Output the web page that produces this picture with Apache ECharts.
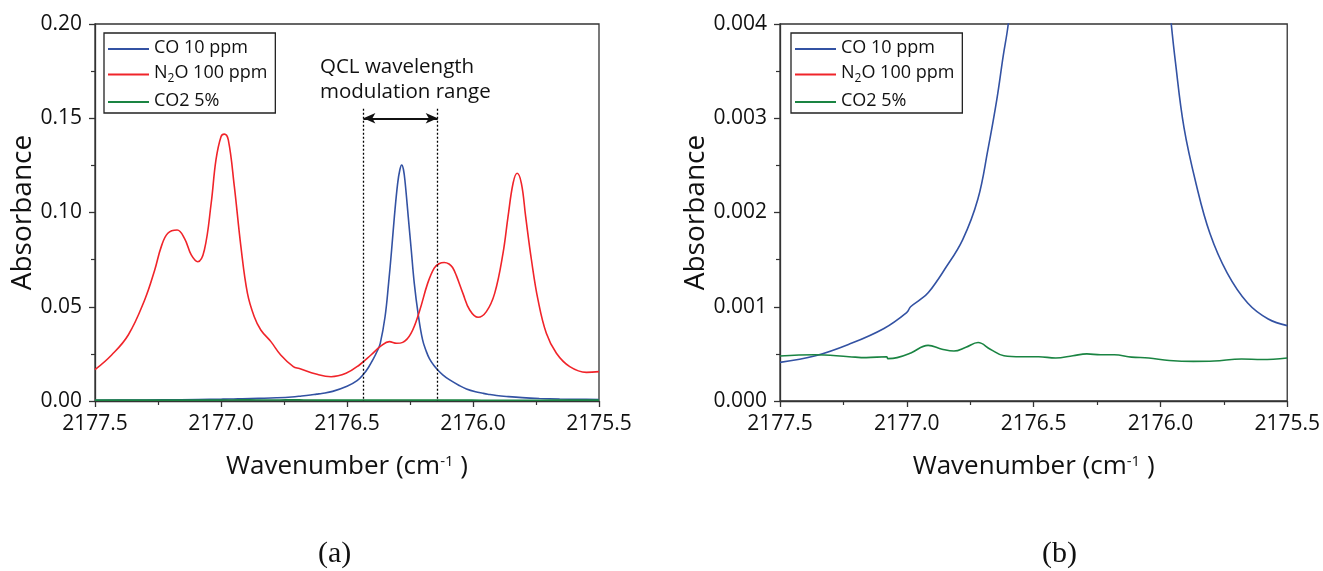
<!DOCTYPE html>
<html><head><meta charset="utf-8">
<script src="https://cdn.jsdelivr.net/npm/echarts@6/dist/echarts.min.js"></script>
<style>html,body{margin:0;padding:0;background:#fff}#c{width:1323px;height:571px}</style>
</head><body><div id="c"></div>
<script>
// ---- data ----
const seriesNames = ['CO 10 ppm', 'N2O 100 ppm', 'CO2 5%'];
const seriesColors = ['#3352a3', '#f0242a', '#1a8442'];

const coData = [
  [2177.5, 0.00041], [2177.36, 0.00048], [2177.23, 0.0006], [2177.09, 0.00077],
  [2177.0, 0.00094], [2176.985, 0.001], [2176.95, 0.00107], [2176.915, 0.00115],
  [2176.85, 0.0014], [2176.78, 0.00171], [2176.72, 0.00214], [2176.68, 0.00267],
  [2176.645, 0.0032], [2176.62, 0.00366], [2176.6, 0.004], [2176.557, 0.0051],
  [2176.5, 0.0078], [2176.46, 0.0108], [2176.434, 0.0143], [2176.415, 0.0178],
  [2176.396, 0.0222], [2176.38, 0.0265], [2176.368, 0.0306], [2176.349, 0.0447],
  [2176.335, 0.0624], [2176.323, 0.0801], [2176.312, 0.0978], [2176.299, 0.1155],
  [2176.29, 0.1228], [2176.283, 0.1252], [2176.276, 0.1228], [2176.269, 0.1155],
  [2176.257, 0.0978], [2176.245, 0.0801], [2176.233, 0.0624], [2176.218, 0.0465],
  [2176.2, 0.0324], [2176.185, 0.0262], [2176.173, 0.0225], [2176.155, 0.0188],
  [2176.138, 0.0162], [2176.12, 0.0139], [2176.094, 0.0113], [2176.054, 0.0082],
  [2176.026, 0.0064], [2175.99, 0.0049], [2175.961, 0.0041], [2175.941, 0.0036],
  [2175.907, 0.0029], [2175.859, 0.0023], [2175.805, 0.00178], [2175.737, 0.00136],
  [2175.656, 0.00104], [2175.575, 0.00087], [2175.5, 0.0008]
];

const n2oData = [
  [2177.5, 0.0166], [2177.434, 0.0244], [2177.368, 0.035], [2177.303, 0.0536],
  [2177.263, 0.0695], [2177.237, 0.0819], [2177.211, 0.089], [2177.174, 0.0907],
  [2177.145, 0.0863], [2177.118, 0.0775], [2177.092, 0.0739], [2177.066, 0.0801],
  [2177.039, 0.1049], [2177.02, 0.1279], [2177.0, 0.1402], [2176.987, 0.1416],
  [2176.971, 0.1385], [2176.947, 0.1137], [2176.921, 0.0819], [2176.895, 0.0571],
  [2176.868, 0.0447], [2176.842, 0.0377], [2176.802, 0.0315], [2176.763, 0.0244],
  [2176.713, 0.0182], [2176.689, 0.0172], [2176.623, 0.0143], [2176.563, 0.0129],
  [2176.504, 0.0147], [2176.451, 0.0191], [2176.405, 0.0244], [2176.365, 0.0292],
  [2176.332, 0.0315], [2176.303, 0.0306], [2176.279, 0.0311], [2176.246, 0.0359],
  [2176.213, 0.0474], [2176.18, 0.0624], [2176.154, 0.0705], [2176.135, 0.0728],
  [2176.114, 0.0735], [2176.095, 0.0727], [2176.081, 0.0708], [2176.066, 0.0665],
  [2176.04, 0.0571], [2176.013, 0.0483], [2175.98, 0.0444], [2175.947, 0.0474],
  [2175.914, 0.0571], [2175.881, 0.0783], [2175.861, 0.0978], [2175.841, 0.1155],
  [2175.825, 0.1208], [2175.808, 0.1155], [2175.791, 0.0978], [2175.768, 0.0748],
  [2175.742, 0.0536], [2175.709, 0.0359], [2175.669, 0.0253], [2175.616, 0.0182],
  [2175.55, 0.0152], [2175.5, 0.0156]
];

const co2Data = [
  [2177.5, 0.000477], [2177.364, 0.00049], [2177.228, 0.00047], [2177.16, 0.00046],
  [2177.079, 0.00047], [2177.075, 0.00045], [2177.038, 0.00046], [2176.984, 0.00051],
  [2176.916, 0.00059], [2176.861, 0.00055], [2176.814, 0.00053], [2176.767, 0.00057],
  [2176.719, 0.00062], [2176.671, 0.00055], [2176.617, 0.00048], [2176.549, 0.00047],
  [2176.48, 0.00047], [2176.413, 0.000456], [2176.345, 0.00048], [2176.29, 0.0005],
  [2176.236, 0.00049], [2176.182, 0.00049], [2176.114, 0.000466], [2176.046, 0.000456],
  [2175.965, 0.00043], [2175.87, 0.00042], [2175.788, 0.000424], [2175.68, 0.000445],
  [2175.6, 0.00044], [2175.5, 0.000456]
];

const xRange = { min: 2175.5, max: 2177.5, interval: 0.5 };
const yRangeA = { min: 0, max: 0.2, interval: 0.05, digits: 2 };
const yRangeB = { min: 0, max: 0.004, interval: 0.001, digits: 3 };
const modulationRange = [2176.435, 2176.14];
const modulationLineTop = 0.155;
const arrowLevel = 0.15;
const annotationLines = ['QCL wavelength', 'modulation range'];
const panelLabels = ['(a)', '(b)'];
const xName = 'Wavenumber (cm{sup|-1} )';
const yName = 'Absorbance';

// ---- chart ----
const FONT = '"Open Sans", "Noto Sans", sans-serif';
const chart = echarts.init(document.getElementById('c'), null, { renderer: 'canvas' });

const grids = [
  { left: 95, top: 24, width: 504, height: 377 },
  { left: 780, top: 24, width: 508, height: 377 }
];

function xAxisFor(i) {
  return {
    type: 'value', gridIndex: i, inverse: true,
    min: xRange.min, max: xRange.max, interval: xRange.interval,
    name: xName, nameLocation: 'middle', nameGap: 53,
    nameTextStyle: {
      fontSize: 26, fontFamily: FONT, color: '#111', verticalAlign: 'top',
      rich: { sup: { fontSize: 15, fontFamily: FONT, color: '#111', verticalAlign: 'top', padding: [0, 0, 8, 0] } }
    },
    axisLine: { show: true, lineStyle: { color: '#333', width: 1.3 } },
    axisTick: { show: true, length: 6, lineStyle: { color: '#333', width: 1.3 } },
    minorTick: { show: true, splitNumber: 2, length: 4, lineStyle: { color: '#333', width: 1.2 } },
    splitLine: { show: false },
    axisLabel: { fontSize: 21, fontFamily: FONT, color: '#111', margin: 13, formatter: v => v.toFixed(1) }
  };
}
function yAxisFor(i, r, gap) {
  return {
    type: 'value', gridIndex: i, min: r.min, max: r.max, interval: r.interval,
    name: yName, nameLocation: 'middle', nameRotate: 90, nameGap: gap,
    nameTextStyle: { fontSize: 28, fontFamily: FONT, color: '#111' },
    axisLine: { show: true, lineStyle: { color: '#333', width: 1.3 } },
    axisTick: { show: true, length: 6, lineStyle: { color: '#333', width: 1.3 } },
    minorTick: { show: true, splitNumber: 2, length: 4, lineStyle: { color: '#333', width: 1.2 } },
    splitLine: { show: false },
    axisLabel: { fontSize: 21, fontFamily: FONT, color: '#111', margin: 13, formatter: v => v.toFixed(r.digits) }
  };
}

const dataSets = [coData, n2oData, co2Data];
const series = [];
[0, 1].forEach(g => {
  seriesNames.forEach((name, k) => {
    series.push({
      type: 'line', name, xAxisIndex: g, yAxisIndex: g,
      data: dataSets[k], showSymbol: false, smooth: 0.4, clip: true,
      lineStyle: { color: seriesColors[k], width: 1.6 },
      itemStyle: { color: seriesColors[k] },
      emphasis: { disabled: true }, z: k === 2 ? 3 : 2
    });
  });
});
// annotation lines on panel (a)
series[0].markLine = {
  silent: true, symbol: ['none', 'none'], animation: false,
  label: { show: false },
  data: [
    [{ coord: [modulationRange[0], modulationLineTop], lineStyle: { type: [2, 2], color: '#000', width: 1.3 } },
     { coord: [modulationRange[0], 0] }],
    [{ coord: [modulationRange[1], modulationLineTop], lineStyle: { type: [2, 2], color: '#000', width: 1.3 } },
     { coord: [modulationRange[1], 0] }],
    [{ coord: [modulationRange[0], arrowLevel], symbol: 'arrow', symbolSize: [8, 12], lineStyle: { type: 'solid', color: '#111', width: 2 } },
     { coord: [modulationRange[1], arrowLevel], symbol: 'arrow', symbolSize: [8, 12] }]
  ]
};

function legendFor(left) {
  return {
    left, top: 33, orient: 'vertical', data: seriesNames,
    icon: 'rect', itemWidth: 41, itemHeight: 2, itemGap: 7,
    borderColor: '#222', borderWidth: 1.3, padding: [6, 8, 3, 4],
    selectedMode: false,
    textStyle: {
      fontSize: 18, fontFamily: FONT, color: '#111',
      rich: {
        t: { fontSize: 18, fontFamily: FONT, color: '#111', verticalAlign: 'top', lineHeight: 20 },
        s: { fontSize: 12, fontFamily: FONT, color: '#111', verticalAlign: 'top', padding: [9, 0, 0, 0] }
      }
    },
    formatter: name => name === 'N2O 100 ppm' ? '{t|N}{s|2}{t|O 100 ppm}' : '{t|' + name + '}'
  };
}

chart.setOption({
  animation: false,
  backgroundColor: '#fff',
  grid: grids.map(g => Object.assign({ show: true, borderColor: '#333', borderWidth: 1.3, backgroundColor: 'transparent' }, g)),
  xAxis: [xAxisFor(0), xAxisFor(1)],
  yAxis: [yAxisFor(0, yRangeA, 53), yAxisFor(1, yRangeB, 67)],
  legend: [legendFor(104), legendFor(791)],
  series,
  graphic: [
    { type: 'text', left: 320, top: 55, style: { text: annotationLines.join('\n'), fontSize: 20.5, fontFamily: FONT, fill: '#111', lineHeight: 25 } },
    { type: 'text', left: 318, top: 539, style: { text: panelLabels[0], fontSize: 30, fontFamily: '"Liberation Serif", serif', fill: '#111' } },
    { type: 'text', left: 1042, top: 539, style: { text: panelLabels[1], fontSize: 30, fontFamily: '"Liberation Serif", serif', fill: '#111' } }
  ]
});
</script></body></html>
